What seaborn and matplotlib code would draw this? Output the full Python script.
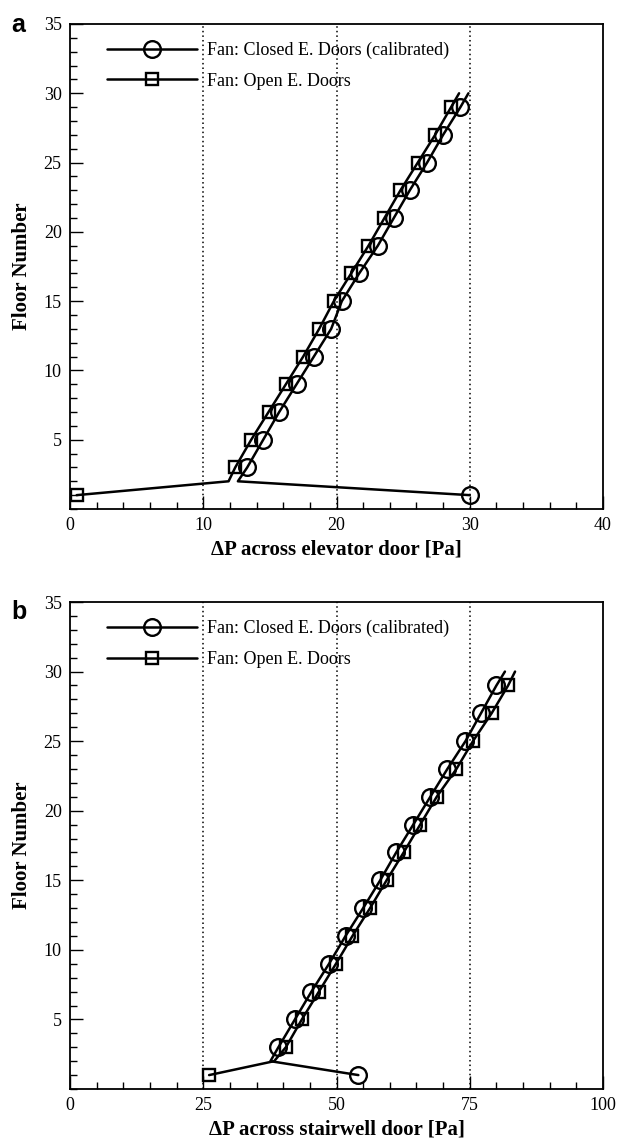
import numpy as np
import pandas as pd
import matplotlib
matplotlib.use("Agg")
import matplotlib.pyplot as plt
from matplotlib.lines import Line2D
from matplotlib.ticker import MultipleLocator
import seaborn as sns

# ---------------- data ----------------
floors = [1, 2, 3, 5, 7, 9, 11, 13, 15, 17, 19, 21, 23, 25, 27, 29, 30]
marker_floors = [1, 3, 5, 7, 9, 11, 13, 15, 17, 19, 21, 23, 25, 27, 29]

elev_closed = [30.0, 12.6, 13.3, 14.5, 15.7, 17.0, 18.3, 19.6, 20.4, 21.7,
               23.1, 24.3, 25.5, 26.8, 28.0, 29.3, 29.9]
elev_open = [0.5, 11.9, 12.4, 13.6, 14.9, 16.2, 17.5, 18.7, 19.8, 21.1,
             22.4, 23.6, 24.8, 26.1, 27.4, 28.6, 29.2]
stair_closed = [54.1, 37.6, 39.1, 42.2, 45.3, 48.6, 51.7, 55.0, 58.2, 61.2,
                64.4, 67.6, 70.8, 74.2, 77.1, 80.0, 81.6]
stair_open = [26.1, 38.3, 40.5, 43.5, 46.7, 49.9, 53.0, 56.3, 59.4, 62.6,
              65.7, 68.8, 72.5, 75.6, 79.1, 82.2, 83.5]

series_labels = ["Fan: Closed E. Doors (calibrated)", "Fan: Open E. Doors"]
panel_letters = ["a", "b"]
x_labels = ["\u0394P across elevator door [Pa]", "\u0394P across stairwell door [Pa]"]
y_label = "Floor Number"
x_limits = [(0, 40), (0, 100)]
x_major = [10, 25]
x_minor = [2, 5]
x_dotted = [[10, 20, 30], [25, 50, 75]]

# ---------------- style ----------------
sns.set_theme(style="ticks")
plt.rcParams["font.family"] = ["Liberation Serif", "DejaVu Serif"]
plt.rcParams["text.color"] = "black"
plt.rcParams["axes.labelcolor"] = "black"
plt.rcParams["xtick.color"] = "black"
plt.rcParams["ytick.color"] = "black"

W, H = 617, 1142
fig = plt.figure(figsize=(W / 100, H / 100), dpi=100)

def fx(px):
    return px / W

def fy(py):
    return 1 - py / H

ax_top = fig.add_axes([fx(70), fy(509), (603 - 70) / W, (509 - 24) / H])
ax_bot = fig.add_axes([fx(70), fy(1089), (603 - 70) / W, (1089 - 602) / H])

mark_idx = [floors.index(f) for f in marker_floors]

line_kw = dict(color="black", linewidth=1.8, sort=False, estimator=None,
               markerfacecolor="none", markeredgecolor="black",
               markeredgewidth=1.7, legend=False)

datasets = [(elev_closed, elev_open), (stair_closed, stair_open)]

for i, (ax, (closed, opened)) in enumerate(zip([ax_top, ax_bot], datasets)):
    for xv in x_dotted[i]:
        ax.axvline(xv, color="black", linestyle=(0, (1, 2)), linewidth=1.1, zorder=0.5)

    df_c = pd.DataFrame({"dp": closed, "floor": floors})
    df_o = pd.DataFrame({"dp": opened, "floor": floors})
    sns.lineplot(data=df_c, x="dp", y="floor", ax=ax, marker="o",
                 markersize=12, markevery=mark_idx, **line_kw)
    sns.lineplot(data=df_o, x="dp", y="floor", ax=ax, marker="s",
                 markersize=8, markevery=mark_idx, **line_kw)

    ax.set_xlim(*x_limits[i])
    ax.set_ylim(0, 35)
    ax.xaxis.set_major_locator(MultipleLocator(x_major[i]))
    ax.xaxis.set_minor_locator(MultipleLocator(x_minor[i]))
    ax.yaxis.set_major_locator(MultipleLocator(5))
    ax.yaxis.set_minor_locator(MultipleLocator(1))
    ax.set_yticks([5, 10, 15, 20, 25, 30, 35])
    ax.tick_params(axis="both", which="major", direction="in", length=9.5,
                   width=1.0, labelsize=13, pad=6, color="black", labelcolor="black")
    ax.tick_params(axis="both", which="minor", direction="in", length=5,
                   width=1.0, color="black")
    ax.tick_params(top=False, right=False, which="both")
    for sp in ax.spines.values():
        sp.set_visible(True)
        sp.set_linewidth(1.3)
        sp.set_color("black")

    ax.set_xlabel(x_labels[i], fontsize=15, fontweight="bold", labelpad=4,
                  color="black")
    ax.set_ylabel(y_label, fontsize=15, fontweight="bold", labelpad=8,
                  color="black")

    handles = [
        Line2D([], [], color="black", linewidth=1.8, marker="o", markersize=12,
               markerfacecolor="none", markeredgecolor="black", markeredgewidth=1.7),
        Line2D([], [], color="black", linewidth=1.8, marker="s", markersize=9,
               markerfacecolor="none", markeredgecolor="black", markeredgewidth=1.7),
    ]
    leg = ax.legend(handles, series_labels, loc="upper left",
                    bbox_to_anchor=(37 / 533, 1 - 18 / 487), frameon=False,
                    fontsize=13, handlelength=5.0, handletextpad=0.55,
                    labelspacing=0.75, borderpad=0, borderaxespad=0, numpoints=1)
    for t in leg.get_texts():
        t.set_color("black")

    fig.text(fx(11), fy([32, 619][i]), panel_letters[i], fontsize=18,
             fontweight="bold", family=["Liberation Sans", "DejaVu Sans"],
             ha="left", va="baseline", color="black")

fig.savefig("out.png", dpi=100, facecolor="white")
